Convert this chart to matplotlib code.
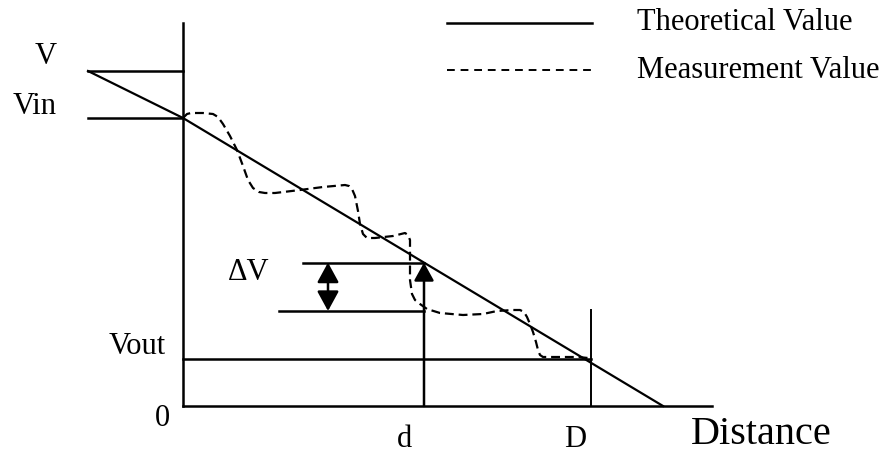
import matplotlib.pyplot as plt

# levels and positions (x: distance from the V axis, y: height above 0)
V_level = 335
Vin_level = 288
Vout_level = 47
d_pos = 241
D_pos = 408
axis_top = 383
axis_end = 529
D_top = 96
left_end = -95
dv_low = 95

theory_x = [-95, 0, 480]
theory_y = [335, 288, 0]

meas_x = [0, 4, 8, 20, 30, 35, 40, 47, 54, 60, 65, 70, 76, 82, 92, 117, 140, 162,
          166, 169, 172, 175, 177, 180, 184, 192, 210, 222, 225, 227, 227, 227, 227,
          229, 232, 237, 244, 257, 280, 300, 314, 330, 337, 341, 344, 347, 350, 353,
          355, 357, 360, 380, 395, 405]
meas_y = [288, 292, 293, 293, 292, 289, 282, 270, 256, 240, 226, 218, 214, 213, 213,
          216, 219, 221, 220, 217, 210, 195, 182, 172, 168, 168, 170, 173, 171, 166,
          155, 140, 126, 112, 106, 102, 97, 93, 91, 92, 95, 96, 96, 94, 89, 82, 74,
          64, 56, 51, 49, 49, 49, 48]

fig = plt.figure(figsize=(8.93, 4.54), dpi=100)
ax = fig.add_axes([0, 0, 1, 1])
ax.set_xlim(-183, 710)
ax.set_ylim(-48, 406)
ax.axis('off')

plt.rcParams['font.family'] = ['Liberation Serif', 'DejaVu Serif']
lw = 1.8
fs = 22

# axes
ax.plot([0, 0], [0, axis_top], color='black', lw=lw)
ax.plot([0, axis_end], [0, 0], color='black', lw=lw)

# reference levels
ax.plot([left_end, 0], [V_level, V_level], color='black', lw=lw)
ax.plot([left_end, 0], [Vin_level, Vin_level], color='black', lw=lw)
ax.plot([0, D_pos], [Vout_level, Vout_level], color='black', lw=lw)
ax.plot([D_pos, D_pos], [0, D_top], color='black', lw=1.4)

# theoretical and measured curves
ax.plot(theory_x, theory_y, color='black', lw=1.6)
ax.plot(meas_x, meas_y, color='black', lw=1.6, dashes=(4, 2.2))

# d marker with arrow up to the line
d_top = Vin_level - (Vin_level / theory_x[2]) * d_pos
ax.annotate('', xy=(d_pos, d_top), xytext=(d_pos, 0),
            arrowprops=dict(arrowstyle='-|>,head_length=1.0,head_width=0.55',
                            color='black', lw=lw, shrinkA=0, shrinkB=0,
                            mutation_scale=11))

# delta V
ax.plot([120, d_pos], [d_top, d_top], color='black', lw=lw)
ax.plot([96, d_pos], [dv_low, dv_low], color='black', lw=lw)
ax.annotate('', xy=(145, d_top), xytext=(145, dv_low),
            arrowprops=dict(arrowstyle='<|-|>,head_length=1.1,head_width=0.6',
                            color='black', lw=lw, shrinkA=0, shrinkB=0,
                            mutation_scale=11))

# labels
ax.text(-126, 349, 'V', fontsize=fs, ha='right', va='center')
ax.text(-126, 300, 'Vin', fontsize=fs, ha='right', va='center')
ax.text(-17, 60, 'Vout', fontsize=fs, ha='right', va='center')
ax.text(-13, -12, '0', fontsize=fs, ha='right', va='center')
ax.text(66, 133, 'ΔV', fontsize=fs, ha='center', va='center')
ax.text(221, -41, 'd', fontsize=fs, ha='center', va='baseline')
ax.text(392, -41, 'D', fontsize=fs, ha='center', va='baseline')
ax.text(578, -29, 'Distance', fontsize=29, ha='center', va='center')

# legend drawn by hand
ax.plot([264, 409], [383, 383], color='black', lw=lw)
ax.plot([264, 409], [336, 336], color='black', lw=1.4, dashes=(4, 3))
ax.text(454, 383, 'Theoretical Value', fontsize=fs, ha='left', va='center')
ax.text(454, 336, 'Measurement Value', fontsize=fs, ha='left', va='center')

fig.savefig('out.png', dpi=100)
